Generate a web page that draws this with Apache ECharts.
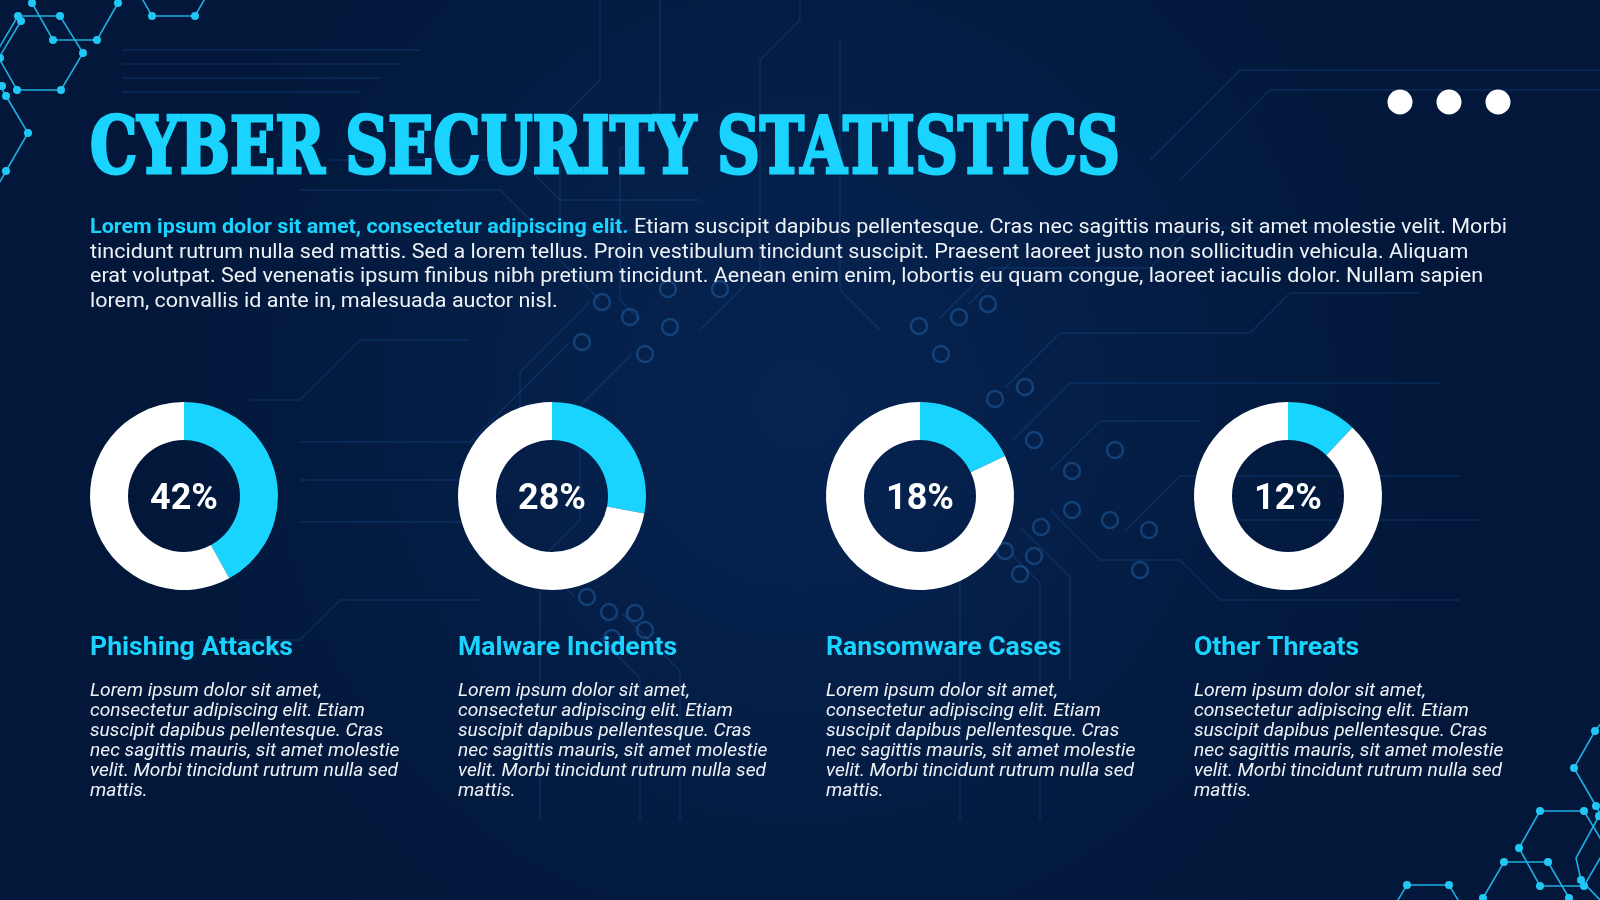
<!DOCTYPE html>
<html>
<head>
<meta charset="utf-8">
<script src="https://cdn.jsdelivr.net/npm/echarts@6/dist/echarts.min.js"></script>
<style>
  html, body { margin: 0; padding: 0; background: #031a3e; }
  #main { width: 1600px; height: 900px; }
</style>
</head>
<body>
<div id="main"></div>
<script>
// ---- data ----
var titleText = 'CYBER SECURITY STATISTICS';
var introBold = 'Lorem ipsum dolor sit amet, consectetur adipiscing elit.';
var introLines = [
  ' Etiam suscipit dapibus pellentesque. Cras nec sagittis mauris, sit amet molestie velit. Morbi',
  'tincidunt rutrum nulla sed mattis. Sed a lorem tellus. Proin vestibulum tincidunt suscipit. Praesent laoreet justo non sollicitudin vehicula. Aliquam',
  'erat volutpat. Sed venenatis ipsum finibus nibh pretium tincidunt. Aenean enim enim, lobortis eu quam congue, laoreet iaculis dolor. Nullam sapien',
  'lorem, convallis id ante in, malesuada auctor nisl.'
];
var categories = ['Phishing Attacks', 'Malware Incidents', 'Ransomware Cases', 'Other Threats'];
var shares = [42, 28, 18, 12];
var descLines = [
  'Lorem ipsum dolor sit amet,',
  'consectetur adipiscing elit. Etiam',
  'suscipit dapibus pellentesque. Cras',
  'nec sagittis mauris, sit amet molestie',
  'velit. Morbi tincidunt rutrum nulla sed',
  'mattis.'
];

// ---- styles ----
var CYAN = '#1ad3ff';
var WHITE = '#ffffff';
var TEXT = '#eef2f7';
var SANS = 'Roboto, "Noto Sans", sans-serif';

var ctx = document.createElement('canvas').getContext('2d');
function textWidth(str, font) { ctx.font = font; return ctx.measureText(str).width; }

// condensed slab-ish title; fall back to plain bold if the shorthand is refused
var titleFont = 'condensed bold 78px "DejaVu Serif", serif';
ctx.font = '10px monospace';
ctx.font = titleFont;
if (ctx.font.indexOf('78px') < 0) titleFont = 'bold 78px "DejaVu Serif", serif';
var titleScale = 1030 / textWidth(titleText, titleFont);

var introSize = 21;
var introW = textWidth(introBold, 'bold ' + introSize + 'px ' + SANS) +
             textWidth(introLines[0], 'normal ' + introSize + 'px ' + SANS);
var introScale = 1417 / introW;

var headSize = 25;
var headScale = 203 / textWidth(categories[0], 'bold ' + headSize + 'px ' + SANS);
var descSize = 18;
var descScale = 308 / textWidth(descLines[4], 'italic normal ' + descSize + 'px ' + SANS);

var dom = document.getElementById('main');
var myChart = echarts.init(dom, null, { renderer: 'canvas' });

// decorative hexagon network (corners)
var hexLines = [
  [[18,16],[60,16],[83,53],[61,90],[17,90],[-4,53],[18,16]],
  [[21,21],[-3,61]],
  [[20,-18],[32,3],[53,40],[97,40],[118,3],[130,-18]],
  [[-10,68],[6,96],[28,133],[6,171],[-8,196]],
  [[140,-5],[152,16],[195,16],[207,-5]],
  [[1540,811],[1584,811],[1606,848],[1584,886],[1540,886],[1519,848],[1540,811]],
  [[1472,918],[1483,898],[1504,862],[1548,862],[1569,898],[1580,918]],
  [[1386,920],[1407,885],[1449,885],[1470,920]],
  [[1610,712],[1595,731],[1574,768],[1596,806],[1606,824]],
  [[1620,784],[1599,816],[1576,858],[1581,880],[1600,900]]
];
var hexDots = [
  [32,3],[118,3],[18,16],[60,16],[21,21],[53,40],[97,40],[83,53],[0,58],
  [17,90],[61,90],[2,86],[6,96],[28,133],[6,171],[152,16],[195,16],
  [1595,731],[1574,768],[1596,806],[1599,816],[1540,811],[1584,811],[1519,848],
  [1504,862],[1548,862],[1540,886],[1584,886],[1581,880],[1407,885],[1449,885],
  [1483,898],[1569,898]
];

// faint circuit traces in the background
var traces = [
  [[122,50],[420,50]], [[122,64],[400,64]], [[122,78],[380,78]], [[122,92],[360,92]],
  [[330,160],[520,160],[560,200],[700,200]], [[300,190],[500,190],[540,230],[640,230]],
  [[600,300],[560,260],[560,120],[600,80],[600,0]], [[640,320],[620,300],[620,150],[660,110],[660,0]],
  [[700,330],[760,270],[760,60],[800,20],[800,0]], [[880,330],[840,290],[840,40]],
  [[940,318],[990,268],[1150,268],[1190,228],[1400,228]], [[968,305],[1010,263]],
  [[1005,388],[1060,333],[1250,333],[1290,293],[1420,293]], [[1013,440],[1070,383],[1440,383]],
  [[1050,471],[1100,421],[1200,421]], [[1126,530],[1180,476],[1460,476]],
  [[1050,510],[1100,560],[1180,560],[1220,600],[1460,600]], [[1020,527],[1070,577],[1070,680]],
  [[1013,556],[1040,583],[1040,820]], [[985,551],[960,576],[960,820]],
  [[590,302],[520,372],[520,440],[480,480],[300,480]], [[632,354],[580,406],[580,520],[540,560],[540,820]],
  [[570,342],[470,442],[300,442]], [[600,638],[640,678],[640,820]], [[575,597],[500,522],[300,522]],
  [[622,613],[680,671],[680,820]], [[250,400],[300,400],[360,340],[470,340]],
  [[1150,160],[1240,70],[1600,70]], [[1180,180],[1270,90],[1600,90]],
  [[1200,480],[1240,520],[1480,520]], [[200,640],[300,640],[340,600],[480,600]]
];
var rings = [
  [602,302],[630,317],[670,327],[645,354],[582,342],[720,289],[668,289],
  [959,317],[988,304],[919,326],[941,354],[1025,387],[995,399],[1034,440],
  [1072,471],[1115,450],[1072,510],[1041,527],[1149,530],[1034,556],[1020,574],
  [1005,551],[587,597],[609,612],[635,613],[612,638],[645,630],[1140,570],[1110,520]
];

var graphics = [];
traces.forEach(function (pts) {
  graphics.push({ type: 'polyline', silent: true, z: 0,
    shape: { points: pts }, style: { stroke: 'rgba(40,110,190,0.22)', lineWidth: 1.5, fill: null } });
});
rings.forEach(function (p) {
  graphics.push({ type: 'circle', silent: true, z: 0,
    shape: { cx: p[0], cy: p[1], r: 8 }, style: { stroke: 'rgba(50,130,210,0.35)', lineWidth: 2.5, fill: null } });
});
hexLines.forEach(function (pts) {
  graphics.push({ type: 'polyline', silent: true, z: 1,
    shape: { points: pts }, style: { stroke: '#1eaee0', lineWidth: 1.6, fill: null } });
});
hexDots.forEach(function (p) {
  graphics.push({ type: 'circle', silent: true, z: 1,
    shape: { cx: p[0], cy: p[1], r: 4 }, style: { fill: '#22c8f5' } });
});

// three dots top right
[1400, 1449, 1498].forEach(function (cx) {
  graphics.push({ type: 'circle', silent: true, z: 2,
    shape: { cx: cx, cy: 102, r: 12.5 }, style: { fill: WHITE } });
});

// title
graphics.push({
  type: 'text', silent: true, z: 3, x: 90, y: 153, scaleX: titleScale,
  style: { text: titleText, fill: CYAN, stroke: CYAN, lineWidth: 3,
    font: titleFont, align: 'left', verticalAlign: 'middle' }
});

// intro paragraph
introLines.forEach(function (line, i) {
  var txt = i === 0 ? '{b|' + introBold + '}{n|' + line + '}' : line;
  graphics.push({
    type: 'text', silent: true, z: 3, x: 90, y: 228 + i * 24.5, scaleX: introScale,
    style: {
      text: txt, fill: TEXT, fontSize: introSize, fontFamily: SANS,
      align: 'left', verticalAlign: 'middle',
      rich: {
        b: { fill: CYAN, fontWeight: 'bold', fontSize: introSize, fontFamily: SANS },
        n: { fill: TEXT, fontSize: introSize, fontFamily: SANS }
      }
    }
  });
});

// category headings + descriptions
categories.forEach(function (name, i) {
  var x = 90 + i * 368;
  graphics.push({
    type: 'text', silent: true, z: 3, x: x, y: 649, scaleX: headScale,
    style: { text: name, fill: CYAN, fontSize: headSize, fontWeight: 'bold', fontFamily: SANS,
      align: 'left', verticalAlign: 'middle' }
  });
  graphics.push({
    type: 'text', silent: true, z: 3, x: x, y: 681, scaleX: descScale,
    style: { text: descLines.join('\n'), fill: TEXT, fontSize: descSize, fontStyle: 'italic',
      fontFamily: SANS, lineHeight: 20, align: 'left', verticalAlign: 'top' }
  });
});

// donut series
var series = categories.map(function (name, i) {
  return {
    type: 'pie', name: name, silent: true,
    center: [184 + i * 368, 496], radius: [56, 94],
    startAngle: 90, clockwise: true, avoidLabelOverlap: false,
    label: { show: false }, labelLine: { show: false },
    emphasis: { disabled: true },
    itemStyle: { borderWidth: 0 },
    data: [
      { value: shares[i], name: name, itemStyle: { color: '#19d4ff' },
        label: { show: true, position: 'center', formatter: '{v|{c}%}',
          rich: { v: { color: WHITE, fontSize: 36, fontWeight: 'bold', fontFamily: SANS,
            padding: [7, 0, 0, 0] } } } },
      { value: 100 - shares[i], name: 'Other', itemStyle: { color: WHITE } }
    ]
  };
});

var option = {
  animation: false,
  backgroundColor: {
    type: 'radial', x: 0.5, y: 0.45, r: 0.75,
    colorStops: [
      { offset: 0, color: '#062452' },
      { offset: 1, color: '#021739' }
    ]
  },
  graphic: { elements: graphics },
  series: series
};

myChart.setOption(option, true);
</script>
</body>
</html>
